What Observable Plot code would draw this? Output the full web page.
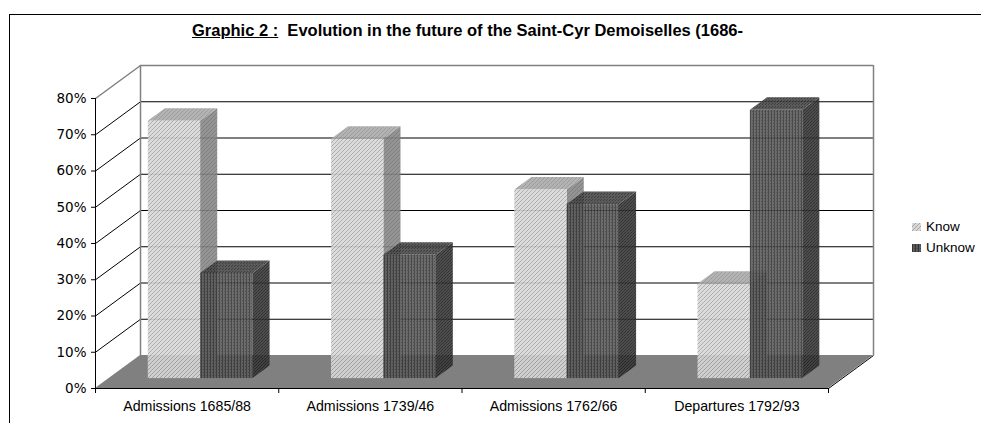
<!DOCTYPE html>
<html>
<head>
<meta charset="utf-8">
<script src="https://cdn.jsdelivr.net/npm/d3@7"></script>
<script src="https://cdn.jsdelivr.net/npm/@observablehq/plot@0.6"></script>
<style>
  html, body { margin: 0; padding: 0; background: #fff; }
  #wrap { position: relative; width: 981px; height: 423px; overflow: hidden; background: #fff; }
  #frame { position: absolute; left: 9px; top: 14px; width: 990px; height: 430px; border-left: 1px solid #000; border-top: 1px solid #000; box-sizing: border-box; }
  #title { position: relative; height: 50px; font-family: "Liberation Sans", Arial, sans-serif; font-weight: bold; font-size: 16.5px; line-height: 19px; color: #000; }
  #title span.t { position: absolute; left: 192px; top: 21px; white-space: pre; }
  #legend { position: absolute; left: 912px; top: 216px; font-family: "Liberation Sans", Arial, sans-serif; font-size: 13.5px; color: #000; }
  #legend .row { display: flex; align-items: center; height: 21px; }
  #legend svg { margin-right: 5px; }
  #chart { position: relative; }
</style>
</head>
<body>
<svg width="0" height="0" style="position:absolute">
  <defs>
    <pattern id="kF" width="4" height="4" patternUnits="userSpaceOnUse">
      <rect width="4" height="4" fill="#d8d8d8"/>
      <path d="M-1,1 L1,-1 M0,4 L4,0 M3,5 L5,3" stroke="#a4a4a4" stroke-width="1"/>
    </pattern>
    <pattern id="kS" width="4" height="4" patternUnits="userSpaceOnUse">
      <rect width="4" height="4" fill="#888888"/>
      <path d="M-1,1 L1,-1 M0,4 L4,0 M3,5 L5,3" stroke="#727272" stroke-width="1"/>
    </pattern>
    <pattern id="kT" width="4" height="4" patternUnits="userSpaceOnUse">
      <rect width="4" height="4" fill="#ababab"/>
      <path d="M-1,1 L1,-1 M0,4 L4,0 M3,5 L5,3" stroke="#929292" stroke-width="1"/>
    </pattern>
    <pattern id="uF" width="3" height="3" patternUnits="userSpaceOnUse">
      <rect width="3" height="3" fill="#5c5c5c"/>
      <rect x="0" y="0" width="1" height="3" fill="#363636"/>
      <rect x="2" y="1" width="1" height="1" fill="#444"/>
    </pattern>
    <pattern id="uS" width="3" height="3" patternUnits="userSpaceOnUse">
      <rect width="3" height="3" fill="#3a3a3a"/>
      <rect x="0" y="0" width="1" height="1" fill="#1c1c1c"/>
      <rect x="1" y="2" width="1" height="1" fill="#1c1c1c"/>
      <rect x="2" y="1" width="1" height="1" fill="#222"/>
    </pattern>
    <pattern id="uT" width="3" height="3" patternUnits="userSpaceOnUse">
      <rect width="3" height="3" fill="#484848"/>
      <rect x="0" y="0" width="1" height="1" fill="#2a2a2a"/>
      <rect x="1" y="2" width="1" height="1" fill="#2a2a2a"/>
    </pattern>
  </defs>
</svg>
<div id="wrap">
  <div id="frame"></div>
  <div id="title"><span class="t"><u>Graphic 2 :</u>  Evolution in the future of the Saint-Cyr Demoiselles (1686-</span></div>
  <div id="chart"></div>
  <div id="legend"></div>
</div>
<script>
// ---- data ----
const categories = ["Admissions 1685/88", "Admissions 1739/46", "Admissions 1762/66", "Departures 1792/93"];
const seriesNames = ["Know", "Unknow"];
const knowValues = [71, 66, 52, 26];
const unknowValues = [29, 34, 48, 74];
const yTicks = [0, 10, 20, 30, 40, 50, 60, 70, 80];

// ---- 3D geometry (in data units) ----
const DX = 0.2456;   // depth offset along x (category units)
const DY = 9.1;      // depth offset along y (percent units)
const Z0 = 0.30, Z1 = 0.68;  // bar depth span (fraction of floor depth)
const GAP = 0.2143, BW = 0.2857;

const seriesValues = [knowValues, unknowValues];
const faceFill = [
  {front: "url(#kF)", side: "url(#kS)", top: "url(#kT)"},
  {front: "url(#uF)", side: "url(#uS)", top: "url(#uT)"}
];

const bars = [];
categories.forEach((c, i) => {
  seriesValues.forEach((vals, s) => {
    const xl = i + GAP + s * BW;
    bars.push({id: i + "-" + s, s, xl, xr: xl + BW, v: vals[i]});
  });
});

const sidePts = [], topPts = [];
for (const b of bars) {
  for (const z of [Z0, Z1]) {
    sidePts.push({id: b.id, s: b.s, x: b.xr + z * DX, y1: z * DY, y2: b.v + z * DY});
    topPts.push({id: b.id, s: b.s, y: b.v + z * DY, x1: b.xl + z * DX, x2: b.xr + z * DX});
  }
}

const floorPts = [
  {y: 0, x1: 0, x2: 4},
  {y: DY, x1: DX, x2: 4 + DX}
];

const innerTicks = yTicks.filter(t => t > 0 && t < 80);
const OP = 0.9;

const barMarks = [];
[0, 1].forEach(s => {
  barMarks.push(Plot.areaY(sidePts.filter(d => d.s === s), {x: "x", y1: "y1", y2: "y2", z: "id", fill: faceFill[s].side, fillOpacity: OP, curve: "linear"}));
});
[0, 1].forEach(s => {
  barMarks.push(Plot.areaX(topPts.filter(d => d.s === s), {y: "y", x1: "x1", x2: "x2", z: "id", fill: faceFill[s].top, fillOpacity: OP, curve: "linear"}));
});
[0, 1].forEach(s => {
  barMarks.push(Plot.rect(bars.filter(d => d.s === s), {
    x1: d => d.xl + Z0 * DX, x2: d => d.xr + Z0 * DX,
    y1: Z0 * DY, y2: d => d.v + Z0 * DY,
    fill: faceFill[s].front, fillOpacity: OP, inset: 0
  }));
});

const chart = Plot.plot({
  width: 981,
  height: 373,
  marginLeft: 95,
  marginRight: 153,
  marginTop: 48,
  marginBottom: 35,
  style: {fontFamily: "'DejaVu Sans', Verdana, sans-serif", fontSize: "13.5px", color: "#000", background: "transparent", overflow: "visible"},
  x: {type: "linear", domain: [0, 4], ticks: [0, 1, 2, 3, 4], tickFormat: () => "", tickSize: 5, label: null},
  y: {domain: [0, 80], ticks: yTicks, tickFormat: d => d + "%", tickSize: 4, tickPadding: 5, label: null},
  marks: [
    // back wall grid
    Plot.ruleY(innerTicks, {y: d => d + DY, x1: DX, x2: 4 + DX, stroke: "#000", strokeWidth: 1}),
    // left wall diagonals
    Plot.link(innerTicks, {x1: 0, y1: d => d, x2: DX, y2: d => d + DY, stroke: "#000", strokeWidth: 1}),
    // grey wall frame
    Plot.ruleY([80 + DY], {x1: DX, x2: 4 + DX, stroke: "#808080", strokeWidth: 1.5}),
    Plot.link([80], {x1: 0, y1: d => d, x2: DX, y2: d => d + DY, stroke: "#808080", strokeWidth: 1.5}),
    Plot.ruleX([DX, 4 + DX], {y1: DY, y2: 80 + DY, stroke: "#808080", strokeWidth: 1.5}),
    // floor
    Plot.areaX(floorPts, {y: "y", x1: "x1", x2: "x2", fill: "#808080", curve: "linear"}),
    Plot.link([4], {x1: d => d, y1: 0, x2: d => d + DX, y2: DY, stroke: "#000", strokeWidth: 1}),
    // bars
    ...barMarks,
    // front axes lines
    Plot.ruleX([0], {y1: 0, y2: 80, stroke: "#000"}),
    Plot.ruleY([0], {x1: 0, x2: 4, stroke: "#000"}),
    // category labels
    Plot.text(categories, {x: (d, i) => i + 0.5, y: 0, text: d => d, dy: 18, fontFamily: "'Liberation Sans', Arial, sans-serif", fontSize: 14.2, fill: "#000"})
  ]
});
document.getElementById("chart").appendChild(chart);

// legend
const legend = document.getElementById("legend");
seriesNames.forEach((name, s) => {
  const row = document.createElement("div");
  row.className = "row";
  row.innerHTML = `<svg width="9" height="8"><rect width="9" height="8" fill="${faceFill[s].front}"/></svg><span>${name}</span>`;
  legend.appendChild(row);
});
</script>
</body>
</html>
